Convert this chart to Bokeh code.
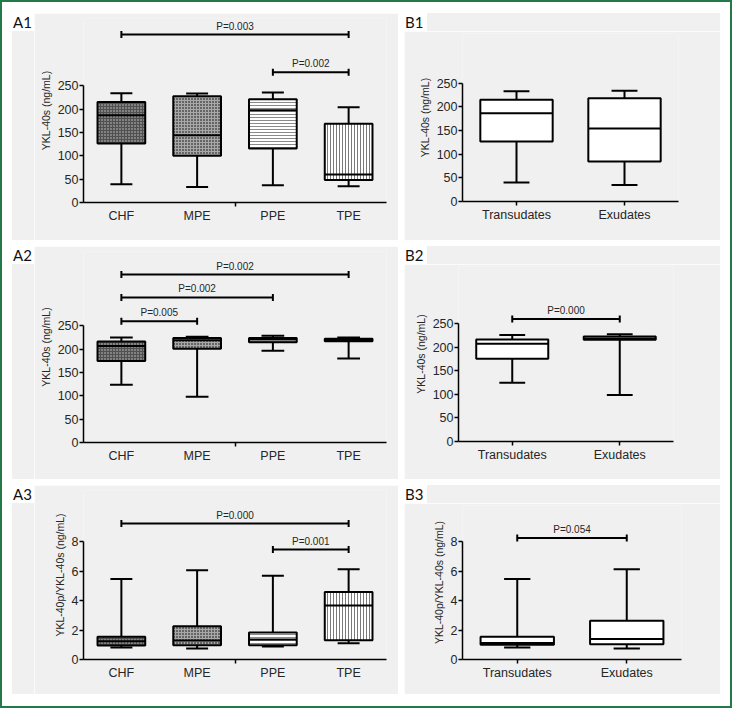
import math
from bokeh.plotting import figure
from bokeh.models import FixedTicker, Div
from bokeh.layouts import row, column
from bokeh.core.properties import value
from bokeh.embed import file_html
from bokeh.resources import INLINE

FONT = "Liberation Sans"
GRAY = "#f0f0f0"
TXT = "#262626"

# ---------------- data ----------------
a_groups = ["CHF", "MPE", "PPE", "TPE"]
b_groups = ["Transudates", "Exudates"]

# A1  YKL-40s
a1_low = [39, 33, 37, 35]
a1_q1 = [126.5, 100, 116, 48]
a1_med = [187, 144, 198, 60]
a1_q3 = [215.7, 227.6, 221.5, 169]
a1_high = [234, 233.7, 236, 204]
a1_brackets = [(1, 4, 360, "P=0.003"), (3, 4, 279, "P=0.002")]

# B1
b1_low = [40, 35]
b1_q1 = [126.8, 84.5]
b1_med = [186.6, 154]
b1_q3 = [214.8, 218]
b1_high = [233, 234]
b1_brackets = []

# A2  YKL-40s
a2_low = [123.6, 98, 196.5, 180]
a2_q1 = [175, 201, 215, 217]
a2_med = [207, 219, 221, 220]
a2_q3 = [216.5, 224, 224, 222.6]
a2_high = [225, 226.5, 228.7, 225]
a2_brackets = [(1, 4, 360, "P=0.002"), (1, 3, 311, "P=0.002"), (1, 2, 260, "P=0.005")]

# B2
b2_low = [125, 99]
b2_q1 = [176, 216]
b2_med = [207.5, 219]
b2_q3 = [216.7, 223]
b2_high = [226, 228]
b2_brackets = [(1, 2, 260, "P=0.000")]

# A3  ratio
a3_low = [0.82, 0.75, 0.88, 1.11]
a3_q1 = [0.95, 0.97, 0.97, 1.31]
a3_med = [1.25, 1.3, 1.36, 3.67]
a3_q3 = [1.54, 2.27, 1.84, 4.6]
a3_high = [5.48, 6.07, 5.69, 6.14]
a3_brackets = [(1, 4, 9.25, "P=0.000"), (3, 4, 7.48, "P=0.001")]

# B3
b3_low = [0.82, 0.75]
b3_q1 = [1.0, 1.04]
b3_med = [1.13, 1.4]
b3_q3 = [1.54, 2.63]
b3_high = [5.48, 6.14]
b3_brackets = [(1, 2, 8.27, "P=0.054")]

ykl_ticks = [0, 50, 100, 150, 200, 250]
ratio_ticks = [0, 2, 4, 6, 8]

a_styles = [
    dict(fill_color="#505050", hatch_pattern="dot", hatch_color="#cccccc", hatch_scale=3, hatch_weight=1),
    dict(fill_color="#a8a8a8", hatch_pattern="dot", hatch_color="#000000", hatch_scale=3, hatch_weight=1.2),
    dict(fill_color="#ffffff", hatch_pattern="horizontal_line", hatch_color="#8a8a8a", hatch_scale=3, hatch_weight=1),
    dict(fill_color="#ffffff", hatch_pattern="vertical_line", hatch_color="#7a7a7a", hatch_scale=3, hatch_weight=1),
]
b_styles = [dict(fill_color="#ffffff"), dict(fill_color="#ffffff")]

TAG_H = 18
TAG_STYLE = {"background-color": "white", "font-family": "Lato", "font-size": "15px",
             "line-height": "18px", "color": "#111111", "padding-left": "1px",
             "box-sizing": "border-box", "white-space": "nowrap"}


def make_panel(groups, low, q1, med, q3, high, brackets, ylabel, yticks, ppu,
               width, height, ml, mr, mt, mb, box_w, cap_w, styles):
    n = len(groups)
    xs = list(range(1, n + 1))
    frame_h = height - mt - mb
    ymax = frame_h / ppu
    p = figure(width=width, height=height, x_range=(0.5, n + 0.5), y_range=(0, ymax),
               output_backend="svg", toolbar_location=None, title=None,
               min_border_left=ml, min_border_right=mr, min_border_top=mt, min_border_bottom=mb,
               background_fill_color=GRAY, border_fill_color=GRAY, outline_line_color=None,
               margin=0)
    p.xgrid.visible = False
    p.ygrid.visible = False

    for i, x in enumerate(xs):
        p.segment(x0=[x, x], y0=[q3[i], low[i]], x1=[x, x], y1=[high[i], q1[i]],
                  line_color="black", line_width=2)
        p.segment(x0=[x - cap_w / 2, x - cap_w / 2], y0=[high[i], low[i]],
                  x1=[x + cap_w / 2, x + cap_w / 2], y1=[high[i], low[i]],
                  line_color="black", line_width=2)
        p.vbar(x=[x], width=box_w, bottom=[q1[i]], top=[q3[i]],
               line_color="black", line_width=2, **styles[i])
        p.segment(x0=[x - box_w / 2], y0=[med[i]], x1=[x + box_w / 2], y1=[med[i]],
                  line_color="black", line_width=2)

    for g1, g2, yv, t in brackets:
        p.segment(x0=[g1], y0=[yv], x1=[g2], y1=[yv], line_color="black", line_width=2)
        p.scatter(x=[g1, g2], y=[yv, yv], marker="dash", angle=math.pi / 2, size=7,
                  line_color="black", line_width=2)
        p.text(x=[(g1 + g2) / 2], y=[yv], text=[t], text_align="center", text_baseline="bottom",
               y_offset=-3, text_font=value(FONT), text_font_size="10px", text_color=TXT)

    ya = p.yaxis[0]
    ya.ticker = FixedTicker(ticks=yticks)
    ya.bounds = (yticks[0], yticks[-1])
    ya.axis_label = ylabel
    ya.axis_label_text_font = FONT
    ya.axis_label_text_font_style = "normal"
    ya.axis_label_text_font_size = "10.5px"
    ya.axis_label_text_color = TXT
    ya.axis_label_standoff = 3
    ya.major_label_text_font = FONT
    ya.major_label_text_font_size = "12.5px"
    ya.major_label_text_color = TXT
    ya.major_label_standoff = 1
    ya.major_tick_out = 4
    ya.major_tick_in = 0
    ya.minor_tick_out = 0
    ya.minor_tick_in = 0
    ya.minor_tick_line_color = None

    xa = p.xaxis[0]
    if n == 4:
        xa.ticker = FixedTicker(ticks=xs, minor_ticks=[2.5])
        xa.major_tick_line_color = None
        xa.major_tick_out = 4
        xa.major_tick_in = 0
        xa.minor_tick_line_color = "black"
        xa.minor_tick_out = 4
        xa.minor_tick_in = 0
        xa.minor_tick_line_width = 1.5
    else:
        xa.ticker = FixedTicker(ticks=xs)
        xa.major_tick_out = 4
        xa.major_tick_in = 0
        xa.minor_tick_out = 0
        xa.minor_tick_in = 0
        xa.minor_tick_line_color = None
    xa.major_label_overrides = {x: g for x, g in zip(xs, groups)}
    xa.major_label_text_font = FONT
    xa.major_label_text_font_size = "12.5px"
    xa.major_label_text_color = TXT
    xa.major_label_standoff = 2

    for ax in (xa, ya):
        ax.axis_line_width = 1.5
        ax.major_tick_line_width = 1.5
        ax.axis_line_color = "black"
    return p


def tag_left(tag, fig, tag_w, height):
    t = Div(text=tag, width=tag_w, height=TAG_H, styles=TAG_STYLE, margin=0)
    f = Div(text="", width=tag_w, height=height - TAG_H, styles={"background-color": GRAY}, margin=0)
    return row(column(t, f, spacing=0, margin=0), fig, spacing=0, margin=0)


def tag_top(tag, fig, tag_w, width):
    t = Div(text=tag, width=tag_w, height=TAG_H, styles=TAG_STYLE, margin=0)
    f = Div(text="", width=width - tag_w, height=TAG_H, styles={"background-color": GRAY}, margin=0)
    return column(row(t, f, spacing=0, margin=0), fig, spacing=0, margin=0)


A_W, B_W = 386, 316
A_TW, B_TW = 22, 23
H1, H2, H3 = 227, 233, 209

A1 = make_panel(a_groups, a1_low, a1_q1, a1_med, a1_q3, a1_high, a1_brackets,
                "YKL-40s (ng/mL)", ykl_ticks, 0.4664, A_W - A_TW, H1, 71 - A_TW, 12, 5, 38, 0.63, 0.29, a_styles)
A2 = make_panel(a_groups, a2_low, a2_q1, a2_med, a2_q3, a2_high, a2_brackets,
                "YKL-40s (ng/mL)", ykl_ticks, 0.4664, A_W - A_TW, H2, 71 - A_TW, 12, 5, 37, 0.63, 0.30, a_styles)
A3 = make_panel(a_groups, a3_low, a3_q1, a3_med, a3_q3, a3_high, a3_brackets,
                "YKL-40p/YKL-40s (ng/mL)", ratio_ticks, 14.7, A_W - A_TW, H3, 71 - A_TW, 12, 5, 35, 0.63, 0.29, a_styles)

B1 = make_panel(b_groups, b1_low, b1_q1, b1_med, b1_q3, b1_high, b1_brackets,
                "YKL-40s (ng/mL)", ykl_ticks, 0.4733, B_W, H1 - TAG_H, 58, 42, 2, 39, 0.67, 0.24, b_styles)
B2 = make_panel(b_groups, b2_low, b2_q1, b2_med, b2_q3, b2_high, b2_brackets,
                "YKL-40s (ng/mL)", ykl_ticks, 0.4707, B_W, H2 - TAG_H, 54, 47, 2, 38, 0.67, 0.24, b_styles)
B3 = make_panel(b_groups, b3_low, b3_q1, b3_med, b3_q3, b3_high, b3_brackets,
                "YKL-40p/YKL-40s (ng/mL)", ratio_ticks, 14.7, B_W, H3 - TAG_H, 58, 39, 2, 35, 0.67, 0.24, b_styles)

layout = column(
    row(tag_left("A1", A1, A_TW, H1), tag_top("B1", B1, B_TW, B_W), spacing=6, margin=0),
    row(tag_left("A2", A2, A_TW, H2), tag_top("B2", B2, B_TW, B_W), spacing=6, margin=0),
    row(tag_left("A3", A3, A_TW, H3), tag_top("B3", B3, B_TW, B_W), spacing=6, margin=0),
    spacing=6, margin=0,
    styles={"border": "2px solid #237a48", "padding": "11px 10px 12px 10px",
            "background-color": "white"},
)

open("out.html", "w").write(file_html(layout, INLINE))
